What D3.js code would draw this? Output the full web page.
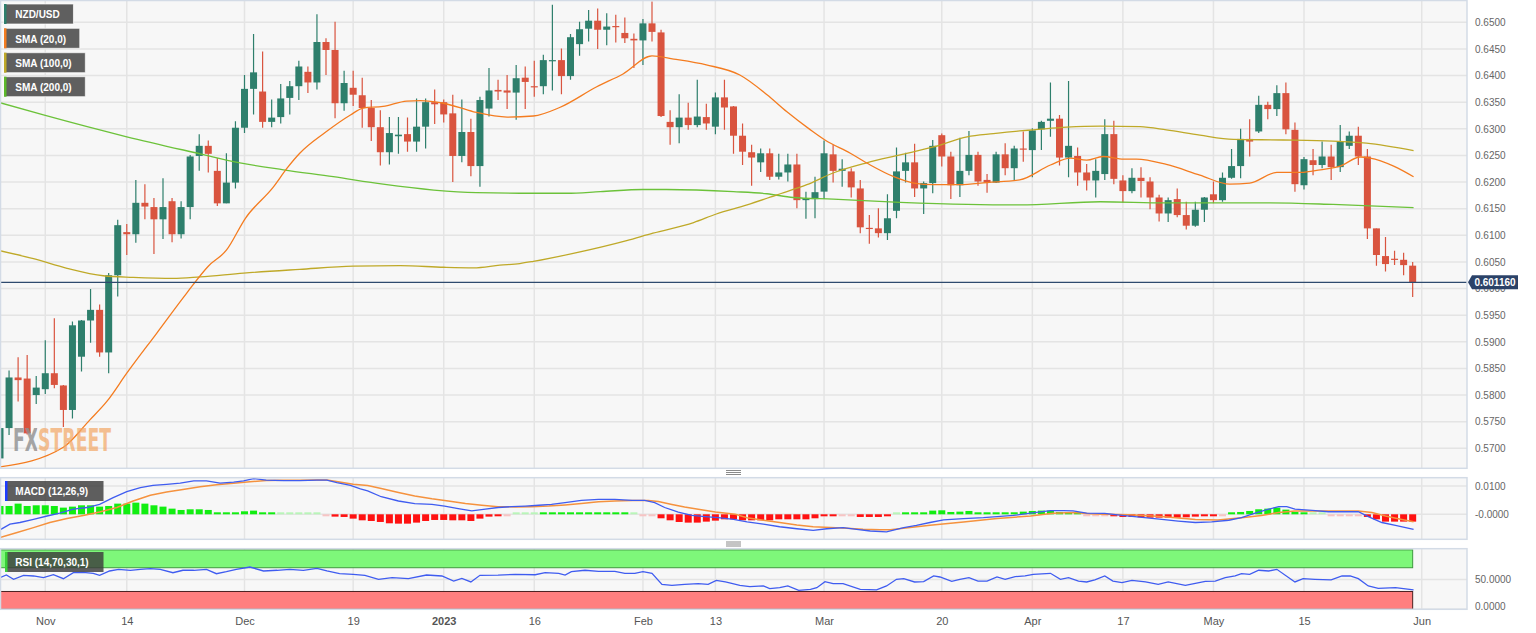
<!DOCTYPE html>
<html><head><meta charset="utf-8">
<script src="https://cdn.jsdelivr.net/npm/d3@7/dist/d3.min.js"></script>
<style>
html,body{margin:0;padding:0;background:#fff;}
svg{display:block;font-family:"Liberation Sans",Arial,sans-serif;}
</style></head><body>
<svg id="chart" width="1536" height="633"></svg>
<script>
// ---------------- DATA ----------------
const firstDay = "2022-10-25";
const openP = [0.5681,0.5738,0.5833,0.5831,0.5800,0.5811,0.5841,0.5818,0.5772,0.5872,
0.5940,0.5960,0.5880,0.6025,0.6106,0.6102,0.6161,0.6153,0.6130,0.6164,
0.6102,0.6153,0.6249,0.6268,0.6221,0.6160,0.6199,0.6302,0.6375,0.6370,
0.6313,0.6322,0.6358,0.6380,0.6407,0.6387,0.6463,0.6448,0.6348,0.6377,
0.6363,0.6339,0.6303,0.6256,0.6286,0.6290,0.6276,0.6304,0.6350,0.6350,
0.6329,0.6249,0.6294,0.6230,0.6338,0.6373,0.6372,0.6368,0.6396,0.6380,
0.6380,0.6428,0.6429,0.6399,0.6459,0.6488,0.6503,0.6486,0.6493,0.6480,
0.6469,0.6466,0.6498,0.6481,0.6313,0.6303,0.6321,0.6307,0.6322,0.6304,
0.6359,0.6342,0.6287,0.6256,0.6237,0.6254,0.6210,0.6218,0.6233,0.6166,
0.6168,0.6182,0.6252,0.6221,0.6220,0.6188,0.6114,0.6113,0.6104,0.6146,
0.6221,0.6237,0.6188,0.6198,0.6288,0.6248,0.6194,0.6221,0.6251,0.6204,
0.6199,0.6252,0.6226,0.6263,0.6260,0.6299,0.6315,0.6319,0.6246,0.6249,
0.6218,0.6203,0.6215,0.6290,0.6203,0.6183,0.6208,0.6201,0.6171,0.6141,
0.6168,0.6138,0.6118,0.6148,0.6177,0.6166,0.6208,0.6230,0.6281,0.6295,
0.6345,0.6337,0.6367,0.6298,0.6194,0.6241,0.6232,0.6248,0.6228,0.6268,
0.6287,0.6248,0.6113,0.6061,0.6056,0.6054,0.6043];
const highP = [0.5778,0.5846,0.5871,0.5875,0.5836,0.5903,0.5944,0.5819,0.5938,0.5941,
0.5999,0.5970,0.6029,0.6129,0.6121,0.6204,0.6196,0.6170,0.6207,0.6170,
0.6164,0.6251,0.6290,0.6278,0.6245,0.6254,0.6314,0.6401,0.6478,0.6445,
0.6355,0.6384,0.6390,0.6428,0.6417,0.6515,0.6470,0.6501,0.6409,0.6409,
0.6396,0.6354,0.6335,0.6322,0.6322,0.6321,0.6357,0.6357,0.6374,0.6355,
0.6364,0.6355,0.6319,0.6360,0.6414,0.6392,0.6401,0.6420,0.6417,0.6428,
0.6439,0.6533,0.6451,0.6478,0.6501,0.6523,0.6526,0.6517,0.6514,0.6509,
0.6479,0.6506,0.6539,0.6486,0.6335,0.6365,0.6349,0.6392,0.6347,0.6368,
0.6392,0.6343,0.6310,0.6270,0.6263,0.6263,0.6253,0.6253,0.6253,0.6182,
0.6210,0.6278,0.6270,0.6243,0.6226,0.6204,0.6138,0.6151,0.6177,0.6265,
0.6255,0.6272,0.6201,0.6279,0.6291,0.6257,0.6283,0.6296,0.6257,0.6215,
0.6257,0.6273,0.6268,0.6295,0.6301,0.6315,0.6387,0.6326,0.6390,0.6265,
0.6234,0.6243,0.6318,0.6315,0.6213,0.6226,0.6228,0.6209,0.6176,0.6171,
0.6188,0.6163,0.6163,0.6172,0.6201,0.6218,0.6262,0.6300,0.6318,0.6362,
0.6351,0.6382,0.6387,0.6312,0.6247,0.6262,0.6276,0.6270,0.6307,0.6295,
0.6304,0.6262,0.6113,0.6097,0.6071,0.6067,0.6050];
const lowP = [0.5669,0.5725,0.5788,0.5726,0.5783,0.5802,0.5813,0.5740,0.5756,0.5844,
0.5898,0.5872,0.5841,0.5985,0.6063,0.6086,0.6130,0.6065,0.6093,0.6087,
0.6094,0.6130,0.6221,0.6218,0.6155,0.6160,0.6188,0.6292,0.6327,0.6302,
0.6303,0.6310,0.6327,0.6354,0.6367,0.6374,0.6401,0.6320,0.6334,0.6343,
0.6302,0.6277,0.6231,0.6233,0.6253,0.6257,0.6257,0.6263,0.6309,0.6312,
0.6200,0.6237,0.6211,0.6191,0.6323,0.6354,0.6337,0.6317,0.6337,0.6360,
0.6365,0.6372,0.6365,0.6392,0.6437,0.6464,0.6450,0.6457,0.6462,0.6461,
0.6414,0.6420,0.6464,0.6322,0.6270,0.6273,0.6298,0.6303,0.6298,0.6290,
0.6298,0.6253,0.6232,0.6193,0.6219,0.6204,0.6205,0.6201,0.6151,0.6131,
0.6132,0.6168,0.6199,0.6191,0.6171,0.6104,0.6084,0.6096,0.6091,0.6132,
0.6199,0.6172,0.6140,0.6179,0.6229,0.6168,0.6172,0.6213,0.6193,0.6180,
0.6198,0.6213,0.6204,0.6238,0.6209,0.6260,0.6285,0.6231,0.6209,0.6193,
0.6184,0.6171,0.6204,0.6196,0.6161,0.6179,0.6171,0.6149,0.6126,0.6125,
0.6134,0.6111,0.6116,0.6125,0.6160,0.6163,0.6206,0.6207,0.6248,0.6292,
0.6318,0.6324,0.6290,0.6182,0.6186,0.6213,0.6226,0.6204,0.6219,0.6262,
0.6232,0.6093,0.6043,0.6032,0.6044,0.6025,0.5984];
const closeP = [0.5738,0.5833,0.5828,0.5728,0.5814,0.5841,0.5819,0.5772,0.5931,0.5940,
0.5960,0.5880,0.6025,0.6119,0.6102,0.6161,0.6154,0.6130,0.6153,0.6102,
0.6153,0.6248,0.6268,0.6253,0.6160,0.6199,0.6302,0.6375,0.6406,0.6313,
0.6321,0.6357,0.6380,0.6417,0.6387,0.6463,0.6448,0.6348,0.6386,0.6364,
0.6339,0.6303,0.6256,0.6292,0.6289,0.6276,0.6304,0.6350,0.6346,0.6327,
0.6249,0.6294,0.6230,0.6354,0.6372,0.6370,0.6368,0.6395,0.6388,0.6379,
0.6429,0.6429,0.6399,0.6472,0.6487,0.6503,0.6486,0.6492,0.6492,0.6470,
0.6466,0.6498,0.6482,0.6324,0.6303,0.6321,0.6307,0.6323,0.6310,0.6359,
0.6340,0.6287,0.6257,0.6246,0.6254,0.6210,0.6218,0.6233,0.6166,0.6170,
0.6181,0.6254,0.6221,0.6225,0.6190,0.6115,0.6112,0.6104,0.6132,0.6220,
0.6237,0.6188,0.6198,0.6268,0.6248,0.6194,0.6221,0.6251,0.6201,0.6199,
0.6252,0.6226,0.6263,0.6262,0.6297,0.6313,0.6319,0.6246,0.6268,0.6218,
0.6203,0.6221,0.6290,0.6206,0.6183,0.6208,0.6202,0.6171,0.6141,0.6166,
0.6138,0.6118,0.6148,0.6171,0.6166,0.6208,0.6230,0.6281,0.6276,0.6345,
0.6337,0.6367,0.6299,0.6196,0.6243,0.6232,0.6248,0.6228,0.6276,0.6287,
0.6248,0.6113,0.6063,0.6046,0.6054,0.6044,0.60116];

// SMA samples: [bar index, value]
const sma20 = [[0,0.5665],[7,0.5702],[9.9,0.5753],[11.8,0.5788],[14,0.5841],[17.3,0.5916],[20.6,0.5991],[23,0.6042],[25,0.6072],[27.1,0.6132],
[30.2,0.6191],[31.7,0.6226],[33.1,0.6254],[35.9,0.6293],[38.7,0.6326],[40.1,0.6339],[42.3,0.6342],[44.9,0.6352],[46.4,0.6353],[49,0.6348],
[52.3,0.6332],[56,0.6322],[58.9,0.6324],[61.8,0.6340],[65.9,0.6379],[68.8,0.6403],[72,0.6437],[74.4,0.6431],[78,0.6420],[81.7,0.6401],
[84.7,0.6364],[86.9,0.6332],[89.5,0.6298],[91.1,0.6279],[93.9,0.6254],[96.1,0.6232],[98.7,0.6210],[100.9,0.6198],[103.1,0.6195],[106,0.6195],
[109,0.6199],[112.6,0.6204],[116,0.6232],[118.2,0.6245],[120,0.6241],[121.8,0.6248],[124.1,0.6243],[125.5,0.6243],[128.8,0.6233],[132.5,0.6213],
[135.8,0.6196],[138,0.6198],[141,0.6218],[143.6,0.6218],[145.8,0.6223],[148,0.6230],[150.2,0.6247],[151.3,0.6245],[153.9,0.6230],[156.1,0.6210]];
const sma100 = [[0,0.6071],[3.7,0.6056],[7.4,0.6038],[11.4,0.6024],[14.7,0.6021],[19.1,0.6019],[22.1,0.6022],[26.9,0.6029],[33.1,0.6036],[39,0.6042],
[44.2,0.6043],[49,0.6040],[52.3,0.6039],[55.2,0.6044],[57.4,0.6047],[58.9,0.6051],[63.3,0.6066],[69.2,0.6090],[72.1,0.6104],[76.6,0.6124],
[79.1,0.6140],[82.5,0.6157],[85.8,0.6176],[89.1,0.6195],[92,0.6217],[95.7,0.6236],[99.4,0.6251],[103.1,0.6266],[106.8,0.6285],[109.7,0.6291],
[112.6,0.6296],[114.1,0.6298],[117.8,0.6303],[121.5,0.6305],[125.9,0.6304],[128.8,0.6298],[132.5,0.6288],[136.2,0.6280],[141.7,0.6279],[147.2,0.6277],
[150.9,0.6273],[156.1,0.6259]];
const sma200 = [[0,0.6349],[4.8,0.6326],[14,0.6285],[22.1,0.6253],[26.5,0.6236],[31.3,0.6223],[36.8,0.6210],[42.3,0.6196],[47.9,0.6185],[52.6,0.6180],
[57.4,0.6179],[62.6,0.6179],[66.3,0.6182],[71,0.6186],[73.6,0.6186],[81,0.6182],[84.7,0.6178],[87.6,0.6171],[92,0.6168],[99.4,0.6162],
[106.8,0.6158],[112.6,0.6157],[121.5,0.6163],[128.8,0.6161],[139.9,0.6161],[147.2,0.6158],[156.1,0.6152]];

// MACD (12,26,9)
const macdLine = [[0,-0.0055],[1.1,-0.0035],[2.2,-0.0029],[3.7,-0.0018],[5.2,-0.0006],[6.6,0.0004],[8.1,0.0018],[9.6,0.0024],[11,0.0035],[12.5,0.0059],
[14,0.0080],[15.5,0.0094],[16.9,0.0102],[18.4,0.0106],[19.9,0.0110],[21.4,0.0118],[22.8,0.0118],[24.3,0.0110],[25.8,0.0114],[26.9,0.0118],
[28,0.0126],[29.4,0.0121],[31.3,0.0119],[33.1,0.0119],[35,0.0121],[36.1,0.0121],[37.2,0.0112],[38.7,0.0102],[39.8,0.0090],[40.6,0.0083],
[42.1,0.0062],[44,0.0047],[45.8,0.0038],[47.7,0.0035],[49.1,0.0029],[50.6,0.0020],[52.1,0.0012],[53.6,0.0018],[55,0.0024],[56.5,0.0027],
[58,0.0029],[59.5,0.0032],[60.9,0.0035],[62.4,0.0041],[64.2,0.0049],[66.1,0.0053],[67.9,0.0053],[69.8,0.0049],[71.2,0.0049],[72.3,0.0041],
[73.4,0.0024],[74.9,0.0008],[76.4,-0.0004],[77.9,-0.0008],[79.3,-0.0012],[81,-0.0018],[82.5,-0.0027],[84.3,-0.0035],[86.1,-0.0044],[88,-0.0051],
[89.8,-0.0057],[91.3,-0.0051],[93.1,-0.0047],[94.6,-0.0053],[96.1,-0.0059],[97.9,-0.0062],[99.8,-0.0047],[101.2,-0.0039],[102.7,-0.0029],[104.2,-0.0020],
[106.4,-0.0015],[108.6,-0.0012],[110.1,-0.0008],[111.9,-0.0004],[113.8,0.0004],[116,0.0013],[117.4,0.0013],[118.5,0.0012],[120,0.0004],[122,0.0003],
[123.9,-0.0004],[126.4,-0.0012],[128.3,-0.0018],[130.1,-0.0024],[132,-0.0029],[133.8,-0.0027],[135.7,-0.0021],[137.1,-0.0012],[138.6,0.0004],[140.1,0.0018],
[141.2,0.0027],[142.1,0.0027],[143,0.0018],[144.9,0.0014],[146.7,0.0009],[148.5,0.0009],[150,0.0009],[151.1,-0.0008],[152.6,-0.0029],[154.1,-0.0039],[156.1,-0.0053]];
const signalLine = [[0,-0.0082],[1.8,-0.0065],[3.7,-0.0047],[5.5,-0.0029],[7.4,-0.0015],[9.2,-0.0004],[11,0.0008],[12.9,0.0024],[14.7,0.0047],[16.6,0.0067],
[18.4,0.0079],[20.2,0.0088],[22.1,0.0097],[23.9,0.0104],[25.8,0.0110],[27.6,0.0115],[29.4,0.0119],[31.3,0.0120],[33.1,0.0120],[35,0.0121],
[36.1,0.0121],[37.5,0.0114],[39,0.0106],[40.6,0.0102],[42.1,0.0091],[44,0.0077],[45.8,0.0065],[47.7,0.0055],[49.5,0.0047],[51.4,0.0038],
[53.2,0.0032],[55,0.0027],[56.9,0.0026],[58.7,0.0027],[60.6,0.0029],[62.4,0.0033],[64.2,0.0038],[66.1,0.0044],[67.9,0.0047],[69.8,0.0049],
[71.6,0.0049],[72.7,0.0045],[74.2,0.0035],[75.6,0.0026],[77.1,0.0018],[79,0.0008],[81.2,0.0000],[82.5,-0.0012],[84.3,-0.0021],[86.1,-0.0029],
[88,-0.0038],[89.8,-0.0044],[91.7,-0.0047],[93.5,-0.0049],[95.3,-0.0053],[97.2,-0.0055],[98.3,-0.0055],[100.5,-0.0047],[102.7,-0.0039],[106.4,-0.0027],
[110.1,-0.0015],[113.8,-0.0006],[116.3,0.0004],[118.5,0.0006],[120.4,0.0002],[122,0.0000],[124.6,-0.0002],[128.3,-0.0008],[132,-0.0018],[134.5,-0.0020],
[137.1,-0.0012],[139.3,-0.0004],[141.2,0.0006],[143,0.0012],[146.7,0.0012],[150,0.0012],[151.5,0.0006],[153,-0.0006],[154.8,-0.0018],[156.1,-0.0026]];
const macdHist = [0.00294,0.00294,0.00377,0.00294,0.00318,0.00318,0.00294,0.00236,0.00271,0.00318,
0.00318,0.00271,0.00294,0.00377,0.00377,0.00412,0.00377,0.00318,0.00271,0.00200,
0.00153,0.00177,0.00177,0.00153,0.00059,0.00024,0.00059,0.00106,0.00130,0.00059,
0.00024,0.00012,0.00012,0.00007,0.00004,0.00004,-0.00004,-0.00082,-0.00094,-0.00153,
-0.00212,-0.00236,-0.00271,-0.00318,-0.00330,-0.00330,-0.00294,-0.00236,-0.00200,-0.00200,
-0.00212,-0.00212,-0.00236,-0.00153,-0.00082,-0.00047,-0.00011,0.00007,0.00007,0.00011,
0.00021,0.00025,0.00028,0.00035,0.00046,0.00071,0.00046,0.00032,0.00025,0.00018,
0.00007,-0.00004,-0.00011,-0.00141,-0.00212,-0.00271,-0.00294,-0.00294,-0.00259,-0.00224,
-0.00177,-0.00177,-0.00212,-0.00212,-0.00212,-0.00212,-0.00177,-0.00177,-0.00177,-0.00177,
-0.00141,-0.00071,-0.00059,-0.00011,-0.00007,-0.00094,-0.00094,-0.00094,-0.00071,0.00011,
0.00035,0.00035,0.00035,0.00130,0.00141,0.00082,0.00094,0.00118,0.00059,0.00059,
0.00059,0.00059,0.00071,0.00094,0.00118,0.00130,0.00130,0.00082,0.00059,0.00024,
-0.00011,-0.00014,-0.00011,-0.00035,-0.00094,-0.00094,-0.00106,-0.00118,-0.00118,-0.00118,
-0.00118,-0.00106,-0.00082,-0.00071,-0.00047,-0.00007,0.00024,0.00082,0.00118,0.00177,
0.00200,0.00236,0.00165,0.00082,0.00024,0.00011,0.00004,-0.00011,-0.00007,-0.00004,
-0.00011,-0.00094,-0.00177,-0.00259,-0.00259,-0.00259,-0.00259];

// RSI (14,70,30,1)
const rsiLine = [[0,53.2],[0.7,57.7],[1.5,50.5],[2.6,57.2],[3.7,56.1],[4.8,53.2],[5.9,58.2],[7,51.5],[8.1,61.6],[9.2,62.3],
[10.3,60.6],[11,57.2],[12.1,64.5],[13.1,67.3],[14.4,65.7],[15.5,67.3],[16.6,68.4],[17.7,67.3],[19.1,61.6],[20.2,65.7],
[21.4,65.7],[22.8,67.3],[23.9,59.9],[25,63.3],[26.1,67.3],[27.6,71.2],[29.1,64.5],[30.6,65.7],[32,67.3],[33.5,65.7],
[35,69.0],[36.1,64.5],[37.5,59.9],[39,58.9],[40.3,57.2],[41.8,50.5],[43.3,53.2],[45.1,51.5],[47.1,57.7],[48.8,56.1],
[50.1,47.6],[51,52.1],[52,46],[53,57.2],[55,57.7],[56.9,58.9],[59.1,58.2],[60.2,61.6],[61.7,60.6],[62.4,57.7],
[63.1,63.3],[64.6,65.7],[66.1,64],[67.9,64],[69,60.6],[70.1,60.6],[71,63.3],[72,60.6],[73.1,42],[74.2,40.4],
[75.6,42],[77.1,43.1],[78.2,42],[79.1,48.8],[80.1,46],[80.8,43.8],[81.7,40.4],[82.8,38.1],[84.3,39.3],[85,34.7],
[86.1,36.4],[87,39.3],[88.2,32],[89.5,33.7],[90.2,36.4],[91.1,46.5],[92,43.1],[93.1,43.1],[95,33.7],[96.8,32.6],
[97.9,39.3],[99,50.5],[99.8,51.5],[101,46],[102,46.5],[103.1,56.1],[103.8,54.4],[105.1,47],[106,50.5],[107,53.2],
[108,47.6],[109,47.6],[110.1,54.4],[111,50.5],[112.1,55],[113.2,56.1],[114.1,58.9],[116,60.6],[117.1,50.5],[118,53.2],
[119.1,47.6],[120,46],[120.9,49.4],[122,56.1],[122.9,47.6],[123.9,44.8],[125,48.8],[126.5,46],[127.9,42],[129,46],
[130.9,40.4],[132,43.8],[133.1,47],[134.2,47.6],[135.3,53.2],[136.4,56.1],[137.1,59.9],[138,58.9],[139,65.7],[140.1,64.5],
[141,67.3],[143,46],[143.9,51.5],[145.2,50.5],[147,49.4],[148.2,56.1],[149.1,56.1],[150,51.5],[151.1,39.3],[152.2,35.3],
[154.1,36.4],[156.1,32.6]];

const priceTicks = [0.5700,0.5750,0.5800,0.5850,0.5900,0.5950,0.6000,0.6050,0.6100,0.6150,0.6200,0.6250,0.6300,0.6350,0.6400,0.6450,0.6500];
const macdTicks = [0.0100, 0.0000];
const macdTickLabels = ["0.0100","-0.0000"];
const rsiTicks = [50, 0];
const dateTicks = ["2022-11-01","2022-11-14","2022-12-01","2022-12-19","2023-01-02","2023-01-16","2023-02-01","2023-02-13","2023-03-01","2023-03-20","2023-04-03","2023-04-17","2023-05-01","2023-05-15","2023-06-01"];
const dateTickLabels = ["Nov","14","Dec","19","2023","16","Feb","13","Mar","20","Apr","17","May","15","Jun"];
const legendNames = ["NZD/USD","SMA (20,0)","SMA (100,0)","SMA (200,0)"];

// ---------------- LAYOUT ----------------
const svg = d3.select("#chart");
const plotR = 1467;
const parse = d3.timeParse("%Y-%m-%d");
const fmt = d3.timeFormat("%Y-%m-%d");
const days = d3.timeDay.range(parse(firstDay), parse("2023-06-16")).filter(d => d.getDay() !== 0 && d.getDay() !== 6);
const dayIdx = new Map(days.map((d, i) => [fmt(d), i]));

const x = d3.scaleLinear().domain([0, 162]).range([0, plotR]);
const yP = d3.scaleLinear().domain([0.57, 0.65]).range([448.3, 22.3]);
const yM = d3.scaleLinear().domain([0, 0.01]).range([514.3, 486]);
const yR = d3.scaleLinear().domain([0, 100]).range([609.3, 549.9]);

const panels = [
  {id: "p", top: 0.5, bottom: 468.3},
  {id: "m", top: 477.7, bottom: 539.3},
  {id: "r", top: 548.7, bottom: 609.3}
];
const defs = svg.append("defs");
panels.forEach(p => {
  defs.append("clipPath").attr("id", "clip-" + p.id).append("rect")
    .attr("x", 0).attr("y", p.top).attr("width", plotR).attr("height", p.bottom - p.top);
  svg.append("rect").attr("x", 0.5).attr("y", p.top).attr("width", plotR - 0.5).attr("height", p.bottom - p.top)
    .attr("fill", "#f7f7f7");
});

const tickIdx = dateTicks.map(d => dayIdx.get(d));
const gridColor = "#e4e4e4";
panels.forEach(p => {
  svg.append("g").selectAll("line").data(tickIdx).join("line")
    .attr("x1", d => x(d)).attr("x2", d => x(d)).attr("y1", p.top).attr("y2", p.bottom)
    .attr("stroke", gridColor).attr("stroke-width", 1.5);
});
svg.append("g").selectAll("line").data(priceTicks).join("line")
  .attr("x1", 0).attr("x2", plotR).attr("y1", d => yP(d)).attr("y2", d => yP(d))
  .attr("stroke", gridColor).attr("stroke-width", 1.5);
svg.append("g").selectAll("line").data(macdTicks).join("line")
  .attr("x1", 0).attr("x2", plotR).attr("y1", d => yM(d)).attr("y2", d => yM(d))
  .attr("stroke", gridColor).attr("stroke-width", 1.5);
svg.append("g").selectAll("line").data(rsiTicks).join("line")
  .attr("x1", 0).attr("x2", plotR).attr("y1", d => yR(d)).attr("y2", d => yR(d))
  .attr("stroke", gridColor).attr("stroke-width", 1.5);

// ---------------- PRICE PANEL ----------------
const gP = svg.append("g").attr("clip-path", "url(#clip-p)");
const upC = "#2e7f6c", dnC = "#d9543f";
const candles = closeP.map((c, i) => ({i, o: openP[i], h: highP[i], l: lowP[i], c}));
gP.append("g").selectAll("line").data(candles).join("line")
  .attr("x1", d => x(d.i)).attr("x2", d => x(d.i))
  .attr("y1", d => yP(d.h)).attr("y2", d => yP(d.l))
  .attr("stroke", d => d.c >= d.o ? upC : dnC).attr("stroke-width", 1.2);
const bw = 7;
gP.append("g").selectAll("rect").data(candles).join("rect")
  .attr("x", d => x(d.i) - bw / 2).attr("width", bw)
  .attr("y", d => yP(Math.max(d.o, d.c)))
  .attr("height", d => Math.max(1.2, Math.abs(yP(d.o) - yP(d.c))))
  .attr("fill", d => d.c >= d.o ? upC : dnC);

const smaLine = d3.line().x(d => x(d[0])).y(d => yP(d[1])).curve(d3.curveMonotoneX);
[[sma200, "#6cc23a"], [sma100, "#bfa928"], [sma20, "#f47c20"]].forEach(([data, col]) => {
  gP.append("path").datum(data).attr("d", smaLine).attr("fill", "none")
    .attr("stroke", col).attr("stroke-width", 1.3);
});

// watermark: one text, two colours via a hard-stop gradient
const wmGrad = defs.append("linearGradient").attr("id", "wmGrad")
  .attr("gradientUnits", "userSpaceOnUse").attr("x1", 13).attr("x2", 111).attr("y1", 0).attr("y2", 0);
wmGrad.append("stop").attr("offset", 0.24).attr("stop-color", "#8f8f8f").attr("stop-opacity", 0.8);
wmGrad.append("stop").attr("offset", 0.24).attr("stop-color", "#f2a868").attr("stop-opacity", 0.72);
svg.append("text").attr("x", 13).attr("y", 451)
  .attr("font-family", "'DejaVu Sans Condensed','DejaVu Sans',sans-serif").attr("font-weight", "bold")
  .attr("font-size", 32).attr("textLength", 98).attr("lengthAdjust", "spacingAndGlyphs")
  .attr("fill", "url(#wmGrad)").text("FXSTREET");

// current price line
const last = closeP[closeP.length - 1];
svg.append("line").attr("x1", 0).attr("x2", plotR).attr("y1", yP(last)).attr("y2", yP(last))
  .attr("stroke", "#2e4a6e").attr("stroke-width", 1.3);

// ---------------- MACD PANEL ----------------
const gM = svg.append("g").attr("clip-path", "url(#clip-m)");
gM.append("g").selectAll("rect").data(macdHist.map((v, i) => ({i, v}))).join("rect")
  .attr("x", d => x(d.i) - 3.5).attr("width", 7)
  .attr("y", d => d.v >= 0 ? Math.min(yM(d.v), yM(0) - 2) : yM(0))
  .attr("height", d => Math.max(2, Math.abs(yM(d.v) - yM(0))))
  .attr("fill", d => Math.abs(d.v) < 0.00015 ? (d.v >= 0 ? "#b9f5b9" : "#f7c4c4") : (d.v >= 0 ? "#11ee11" : "#ff1111"));
const mLine = d3.line().x(d => x(d[0])).y(d => yM(d[1]));
gM.append("path").datum(signalLine).attr("d", mLine).attr("fill", "none").attr("stroke", "#f5923e").attr("stroke-width", 1.5);
gM.append("path").datum(macdLine).attr("d", mLine).attr("fill", "none").attr("stroke", "#3f5cf0").attr("stroke-width", 1.3);

// ---------------- RSI PANEL ----------------
const gR = svg.append("g").attr("clip-path", "url(#clip-r)");
const lastX = x(closeP.length - 1);
gR.append("rect").attr("x", 0).attr("width", lastX).attr("y", yR(100)).attr("height", yR(70) - yR(100))
  .attr("fill", "#7ef77a").attr("stroke", "#3f9a3f").attr("stroke-width", 1);
gR.append("rect").attr("x", 0).attr("width", lastX).attr("y", yR(30)).attr("height", yR(0) - yR(30))
  .attr("fill", "#ff7f7f").attr("stroke", "#4a2020").attr("stroke-width", 1);
const rLine = d3.line().x(d => x(d[0])).y(d => yR(d[1]));
gR.append("path").datum(rsiLine).attr("d", rLine).attr("fill", "none").attr("stroke", "#3f5cf0").attr("stroke-width", 1.3);

panels.forEach(p => {
  svg.append("rect").attr("x", 0.5).attr("y", p.top).attr("width", plotR - 0.5).attr("height", p.bottom - p.top)
    .attr("fill", "none").attr("stroke", "#d3dbe6").attr("stroke-width", 1.5);
});

// ---------------- AXES ----------------
const axP = svg.append("g").attr("transform", `translate(${plotR},0)`)
  .call(d3.axisRight(yP).tickValues(priceTicks).tickFormat(d3.format(".4f")).tickSize(0).tickPadding(8));
const axM = svg.append("g").attr("transform", `translate(${plotR},0)`)
  .call(d3.axisRight(yM).tickValues(macdTicks).tickFormat((d, i) => macdTickLabels[i]).tickSize(0).tickPadding(8));
const axR = svg.append("g").attr("transform", `translate(${plotR},0)`)
  .call(d3.axisRight(yR).tickValues(rsiTicks).tickFormat(d3.format(".4f")).tickSize(0).tickPadding(8));
axR.selectAll(".tick").filter(d => d === 0).select("text").attr("dy", "0.05em");
const axX = svg.append("g").attr("transform", "translate(0,612)")
  .call(d3.axisBottom(x).tickValues(tickIdx).tickFormat((d, i) => dateTickLabels[i]).tickSize(0).tickPadding(5));
[axP, axM, axR, axX].forEach(a => {
  a.select(".domain").remove();
  a.selectAll("text").attr("fill", "#666").attr("font-size", 10).attr("font-family", "'Liberation Sans',Arial,sans-serif");
});
axX.selectAll("text").attr("font-size", 11).attr("fill", "#555")
  .attr("font-weight", (d, i) => dateTickLabels[i] === "2023" ? "bold" : "normal");

// price label (it covers the 0.6000 tick, as in the reference)
const ly = yP(last);
svg.append("path").attr("d", `M${plotR + 1},${ly} L${plotR + 5},${ly - 7} H1518 V${ly + 7} H${plotR + 5} Z`)
  .attr("fill", "#2b4268");
svg.append("text").attr("x", 1495).attr("y", ly).attr("dy", "0.36em").attr("text-anchor", "middle")
  .attr("fill", "#fff").attr("font-size", 10).attr("font-weight", "bold").text(d3.format(".6f")(last));

// separators
[472.5, 544].forEach(yy => {
  svg.append("g").selectAll("line").data([-2, 0, 2]).join("line")
    .attr("x1", 726).attr("x2", 741).attr("y1", d => yy + d).attr("y2", d => yy + d)
    .attr("stroke", "#8a8a8a").attr("stroke-width", 1);
});

// ---------------- LEGENDS ----------------
const legColors = [upC, "#f47c20", "#bfa928", "#5cb82a"];
const legY = [4, 28.3, 52.7, 76.7];
legendNames.forEach((name, i) => {
  const g = svg.append("g");
  const bg = g.append("rect").attr("x", 4).attr("y", legY[i]).attr("height", 20).attr("fill", "#5f5f5f")
    .attr("stroke", "#ffffff").attr("stroke-opacity", 0.7).attr("stroke-width", 1);
  g.append("rect").attr("x", 4).attr("y", legY[i]).attr("width", 2.5).attr("height", 20).attr("fill", legColors[i]);
  const t = g.append("text").attr("x", 15.3).attr("y", legY[i] + 14.3).attr("fill", "#fff")
    .attr("font-size", 10).attr("font-weight", "bold").text(name);
  bg.attr("width", t.node().getComputedTextLength() + 25);
});
const ind = [["MACD (12,26,9)", 481, "#1d3cff"], ["RSI (14,70,30,1)", 552, "#39d039"]];
ind.forEach(([name, yy, col]) => {
  const g = svg.append("g");
  g.append("rect").attr("x", 5).attr("y", yy).attr("width", 98.5).attr("height", 20).attr("fill", "#3c3c3c").attr("fill-opacity", 0.82);
  g.append("rect").attr("x", 5).attr("y", yy).attr("width", 2.5).attr("height", 20).attr("fill", col);
  g.append("text").attr("x", 15.3).attr("y", yy + 14).attr("fill", "#fff").attr("font-size", 10)
    .attr("font-weight", "bold").text(name);
});
</script>
</body></html>
